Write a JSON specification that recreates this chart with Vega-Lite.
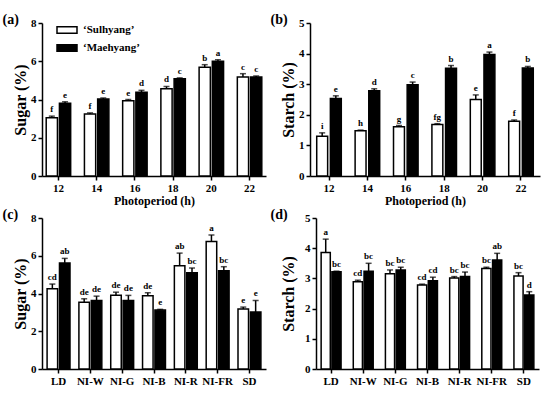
{
  "$schema": "https://vega.github.io/schema/vega-lite/v6.json",
  "padding": {"left": 2, "top": 13, "right": 5, "bottom": 2},
  "background": "white",
  "config": {
    "view": {"stroke": null},
    "font": "Liberation Serif",
    "axis": {"grid": false, "domainColor": "black", "domainWidth": 1.5, "tickColor": "black", "tickWidth": 1.5, "tickSize": 4, "labelFont": "Liberation Serif", "labelFontWeight": "bold", "labelFontSize": 11, "labelColor": "black", "labelPadding": 2, "titleFont": "Liberation Serif", "titleFontWeight": "bold", "titleColor": "black"},
    "axisY": {"titleFontSize": 16},
    "axisX": {"titleFontSize": 12},
    "title": {"font": "Liberation Serif", "fontWeight": "bold", "fontSize": 14, "color": "black", "anchor": "start", "frame": "bounds", "offset": -10, "dx": -10},
    "text": {"font": "Liberation Serif", "fontWeight": "bold", "fontSize": 9, "color": "black"}
  },
  "datasets": {
    "a": [
      {"g": "12", "c": "‘Sulhyang’", "v": 3.04, "hi": 3.13, "l": "f"},
      {"g": "12", "c": "‘Maehyang’", "v": 3.8, "hi": 3.88, "l": "e"},
      {"g": "14", "c": "‘Sulhyang’", "v": 3.24, "hi": 3.3, "l": "f"},
      {"g": "14", "c": "‘Maehyang’", "v": 4.02, "hi": 4.08, "l": "e"},
      {"g": "16", "c": "‘Sulhyang’", "v": 3.94, "hi": 4.0, "l": "e"},
      {"g": "16", "c": "‘Maehyang’", "v": 4.38, "hi": 4.48, "l": "d"},
      {"g": "18", "c": "‘Sulhyang’", "v": 4.56, "hi": 4.68, "l": "d"},
      {"g": "18", "c": "‘Maehyang’", "v": 5.08, "hi": 5.13, "l": "c"},
      {"g": "20", "c": "‘Sulhyang’", "v": 5.69, "hi": 5.82, "l": "b"},
      {"g": "20", "c": "‘Maehyang’", "v": 6.0, "hi": 6.08, "l": "a"},
      {"g": "22", "c": "‘Sulhyang’", "v": 5.18, "hi": 5.35, "l": "c"},
      {"g": "22", "c": "‘Maehyang’", "v": 5.17, "hi": 5.23, "l": "c"}
    ],
    "b": [
      {"g": "12", "c": "‘Sulhyang’", "v": 1.3, "hi": 1.41, "l": "i"},
      {"g": "12", "c": "‘Maehyang’", "v": 2.53, "hi": 2.62, "l": "e"},
      {"g": "14", "c": "‘Sulhyang’", "v": 1.48, "hi": 1.5, "l": "h"},
      {"g": "14", "c": "‘Maehyang’", "v": 2.79, "hi": 2.85, "l": "d"},
      {"g": "16", "c": "‘Sulhyang’", "v": 1.61, "hi": 1.65, "l": "g"},
      {"g": "16", "c": "‘Maehyang’", "v": 2.98, "hi": 3.07, "l": "c"},
      {"g": "18", "c": "‘Sulhyang’", "v": 1.68, "hi": 1.71, "l": "fg"},
      {"g": "18", "c": "‘Maehyang’", "v": 3.52, "hi": 3.61, "l": "b"},
      {"g": "20", "c": "‘Sulhyang’", "v": 2.5, "hi": 2.65, "l": "e"},
      {"g": "20", "c": "‘Maehyang’", "v": 3.97, "hi": 4.05, "l": "a"},
      {"g": "22", "c": "‘Sulhyang’", "v": 1.79, "hi": 1.83, "l": "f"},
      {"g": "22", "c": "‘Maehyang’", "v": 3.53, "hi": 3.58, "l": "b"}
    ],
    "c": [
      {"g": "LD", "c": "‘Sulhyang’", "v": 4.25, "hi": 4.5, "l": "cd"},
      {"g": "LD", "c": "‘Maehyang’", "v": 5.62, "hi": 5.86, "l": "ab"},
      {"g": "NI-W", "c": "‘Sulhyang’", "v": 3.54, "hi": 3.72, "l": "de"},
      {"g": "NI-W", "c": "‘Maehyang’", "v": 3.63, "hi": 3.86, "l": "de"},
      {"g": "NI-G", "c": "‘Sulhyang’", "v": 3.91, "hi": 4.07, "l": "de"},
      {"g": "NI-G", "c": "‘Maehyang’", "v": 3.63, "hi": 3.9, "l": "de"},
      {"g": "NI-B", "c": "‘Sulhyang’", "v": 3.88, "hi": 4.04, "l": "de"},
      {"g": "NI-B", "c": "‘Maehyang’", "v": 3.12, "hi": 3.16, "l": "e"},
      {"g": "NI-R", "c": "‘Sulhyang’", "v": 5.47, "hi": 6.14, "l": "ab"},
      {"g": "NI-R", "c": "‘Maehyang’", "v": 5.1, "hi": 5.35, "l": "bc"},
      {"g": "NI-FR", "c": "‘Sulhyang’", "v": 6.75, "hi": 7.1, "l": "a"},
      {"g": "NI-FR", "c": "‘Maehyang’", "v": 5.21, "hi": 5.42, "l": "bc"},
      {"g": "SD", "c": "‘Sulhyang’", "v": 3.18, "hi": 3.28, "l": "e"},
      {"g": "SD", "c": "‘Maehyang’", "v": 3.02, "hi": 3.63, "l": "e"}
    ],
    "d": [
      {"g": "LD", "c": "‘Sulhyang’", "v": 3.86, "hi": 4.3, "l": "a"},
      {"g": "LD", "c": "‘Maehyang’", "v": 3.22, "hi": 3.24, "l": "bc"},
      {"g": "NI-W", "c": "‘Sulhyang’", "v": 2.89, "hi": 2.94, "l": "cd"},
      {"g": "NI-W", "c": "‘Maehyang’", "v": 3.24, "hi": 3.5, "l": "bc"},
      {"g": "NI-G", "c": "‘Sulhyang’", "v": 3.15, "hi": 3.28, "l": "bc"},
      {"g": "NI-G", "c": "‘Maehyang’", "v": 3.28, "hi": 3.37, "l": "bc"},
      {"g": "NI-B", "c": "‘Sulhyang’", "v": 2.78, "hi": 2.81, "l": "cd"},
      {"g": "NI-B", "c": "‘Maehyang’", "v": 2.92, "hi": 3.04, "l": "cd"},
      {"g": "NI-R", "c": "‘Sulhyang’", "v": 3.01, "hi": 3.06, "l": "bc"},
      {"g": "NI-R", "c": "‘Maehyang’", "v": 3.06, "hi": 3.21, "l": "bc"},
      {"g": "NI-FR", "c": "‘Sulhyang’", "v": 3.33, "hi": 3.37, "l": "bc"},
      {"g": "NI-FR", "c": "‘Maehyang’", "v": 3.61, "hi": 3.83, "l": "ab"},
      {"g": "SD", "c": "‘Sulhyang’", "v": 3.08, "hi": 3.19, "l": "bc"},
      {"g": "SD", "c": "‘Maehyang’", "v": 2.45, "hi": 2.56, "l": "d"}
    ]
  },
  "resolve": {"scale": {"fill": "independent", "xOffset": "independent"}, "legend": {"fill": "independent"}},
  "spacing": 2,
  "vconcat": [
    {
      "spacing": 4,
      "resolve": {"scale": {"fill": "independent", "xOffset": "independent"}, "legend": {"fill": "independent"}},
      "hconcat": [
        {
          "width": 224, "height": 153,
          "title": {"text": "(a)"},
          "data": {"name": "a"},
          "encoding": {
            "x": {"field": "g", "type": "nominal", "sort": null, "scale": {"paddingInner": 0.36, "paddingOuter": 0.11}, "axis": {"title": "Photoperiod (h)", "labelAngle": 0, "titlePadding": 2}},
            "xOffset": {"field": "c", "type": "nominal", "sort": null, "scale": {"paddingInner": 0.15}}
          },
          "layer": [
            {"mark": {"type": "bar", "stroke": "black", "strokeWidth": 1.5},
             "encoding": {"y": {"field": "v", "type": "quantitative", "scale": {"domain": [0, 8]}, "axis": {"values": [0, 2, 4, 6, 8], "title": "Sugar (%)", "titlePadding": 2}},
                          "fill": {"field": "c", "type": "nominal", "sort": null, "scale": {"range": ["white", "black"]},
                                   "legend": {"orient": "none", "legendX": 14, "legendY": -4, "title": null, "symbolType": "M-1,-0.33H1V0.33H-1Z", "symbolSize": 400, "symbolStrokeColor": "black", "symbolStrokeWidth": 1.5, "labelFont": "Liberation Serif", "labelFontSize": 11, "labelFontWeight": "bold", "labelColor": "black", "labelOffset": 5, "rowPadding": -2}}}},
            {"mark": {"type": "rule", "strokeWidth": 1.5, "color": "black"},
             "encoding": {"y": {"field": "v", "type": "quantitative", "axis": {"values": [0, 2, 4, 6, 8], "title": "Sugar (%)", "titlePadding": 2}}, "y2": {"field": "hi"}}},
            {"mark": {"type": "tick", "thickness": 1.5, "size": 6, "color": "black"},
             "encoding": {"y": {"field": "hi", "type": "quantitative", "axis": {"values": [0, 2, 4, 6, 8], "title": "Sugar (%)", "titlePadding": 2}}}},
            {"mark": {"type": "text", "baseline": "bottom", "dy": -2},
             "encoding": {"y": {"field": "hi", "type": "quantitative", "axis": {"values": [0, 2, 4, 6, 8], "title": "Sugar (%)", "titlePadding": 2}}, "text": {"field": "l"}}}
          ]
        },
        {
          "width": 230, "height": 153,
          "title": {"text": "(b)"},
          "data": {"name": "b"},
          "encoding": {
            "x": {"field": "g", "type": "nominal", "sort": null, "scale": {"paddingInner": 0.36, "paddingOuter": 0.175}, "axis": {"title": "Photoperiod (h)", "labelAngle": 0, "titlePadding": 2}},
            "xOffset": {"field": "c", "type": "nominal", "sort": null, "scale": {"paddingInner": 0.2}}
          },
          "layer": [
            {"mark": {"type": "bar", "stroke": "black", "strokeWidth": 1.5},
             "encoding": {"y": {"field": "v", "type": "quantitative", "scale": {"domain": [0, 5]}, "axis": {"values": [0, 1, 2, 3, 4, 5], "title": "Starch (%)", "titlePadding": 2}},
                          "fill": {"field": "c", "type": "nominal", "sort": null, "scale": {"range": ["white", "black"]}, "legend": null}}},
            {"mark": {"type": "rule", "strokeWidth": 1.5, "color": "black"},
             "encoding": {"y": {"field": "v", "type": "quantitative", "axis": {"values": [0, 1, 2, 3, 4, 5], "title": "Starch (%)", "titlePadding": 2}}, "y2": {"field": "hi"}}},
            {"mark": {"type": "tick", "thickness": 1.5, "size": 6, "color": "black"},
             "encoding": {"y": {"field": "hi", "type": "quantitative", "axis": {"values": [0, 1, 2, 3, 4, 5], "title": "Starch (%)", "titlePadding": 2}}}},
            {"mark": {"type": "text", "baseline": "bottom", "dy": -2},
             "encoding": {"y": {"field": "hi", "type": "quantitative", "axis": {"values": [0, 1, 2, 3, 4, 5], "title": "Starch (%)", "titlePadding": 2}}, "text": {"field": "l"}}}
          ]
        }
      ]
    },
    {
      "spacing": 4,
      "resolve": {"scale": {"fill": "independent", "xOffset": "independent"}, "legend": {"fill": "independent"}},
      "hconcat": [
        {
          "width": 224, "height": 151,
          "title": {"text": "(c)"},
          "data": {"name": "c"},
          "encoding": {
            "x": {"field": "g", "type": "nominal", "sort": null, "scale": {"paddingInner": 0.28, "paddingOuter": 0.16}, "axis": {"title": null, "labelAngle": 0}},
            "xOffset": {"field": "c", "type": "nominal", "sort": null, "scale": {"paddingInner": 0.15}}
          },
          "layer": [
            {"mark": {"type": "bar", "stroke": "black", "strokeWidth": 1.5},
             "encoding": {"y": {"field": "v", "type": "quantitative", "scale": {"domain": [0, 8]}, "axis": {"values": [0, 2, 4, 6, 8], "title": "Sugar (%)", "titlePadding": 2}},
                          "fill": {"field": "c", "type": "nominal", "sort": null, "scale": {"range": ["white", "black"]}, "legend": null}}},
            {"mark": {"type": "rule", "strokeWidth": 1.5, "color": "black"},
             "encoding": {"y": {"field": "v", "type": "quantitative", "axis": {"values": [0, 2, 4, 6, 8], "title": "Sugar (%)", "titlePadding": 2}}, "y2": {"field": "hi"}}},
            {"mark": {"type": "tick", "thickness": 1.5, "size": 6, "color": "black"},
             "encoding": {"y": {"field": "hi", "type": "quantitative", "axis": {"values": [0, 2, 4, 6, 8], "title": "Sugar (%)", "titlePadding": 2}}}},
            {"mark": {"type": "text", "baseline": "bottom", "dy": -2},
             "encoding": {"y": {"field": "hi", "type": "quantitative", "axis": {"values": [0, 2, 4, 6, 8], "title": "Sugar (%)", "titlePadding": 2}}, "text": {"field": "l"}}}
          ]
        },
        {
          "width": 223, "height": 151,
          "title": {"text": "(d)"},
          "data": {"name": "d"},
          "encoding": {
            "x": {"field": "g", "type": "nominal", "sort": null, "scale": {"paddingInner": 0.38, "paddingOuter": 0.16}, "axis": {"title": null, "labelAngle": 0}},
            "xOffset": {"field": "c", "type": "nominal", "sort": null, "scale": {"paddingInner": 0.15}}
          },
          "layer": [
            {"mark": {"type": "bar", "stroke": "black", "strokeWidth": 1.5},
             "encoding": {"y": {"field": "v", "type": "quantitative", "scale": {"domain": [0, 5]}, "axis": {"values": [0, 1, 2, 3, 4, 5], "title": "Starch (%)", "titlePadding": 8}},
                          "fill": {"field": "c", "type": "nominal", "sort": null, "scale": {"range": ["white", "black"]}, "legend": null}}},
            {"mark": {"type": "rule", "strokeWidth": 1.5, "color": "black"},
             "encoding": {"y": {"field": "v", "type": "quantitative", "axis": {"values": [0, 1, 2, 3, 4, 5], "title": "Starch (%)", "titlePadding": 8}}, "y2": {"field": "hi"}}},
            {"mark": {"type": "tick", "thickness": 1.5, "size": 6, "color": "black"},
             "encoding": {"y": {"field": "hi", "type": "quantitative", "axis": {"values": [0, 1, 2, 3, 4, 5], "title": "Starch (%)", "titlePadding": 8}}}},
            {"mark": {"type": "text", "baseline": "bottom", "dy": -2},
             "encoding": {"y": {"field": "hi", "type": "quantitative", "axis": {"values": [0, 1, 2, 3, 4, 5], "title": "Starch (%)", "titlePadding": 8}}, "text": {"field": "l"}}}
          ]
        }
      ]
    }
  ]
}
